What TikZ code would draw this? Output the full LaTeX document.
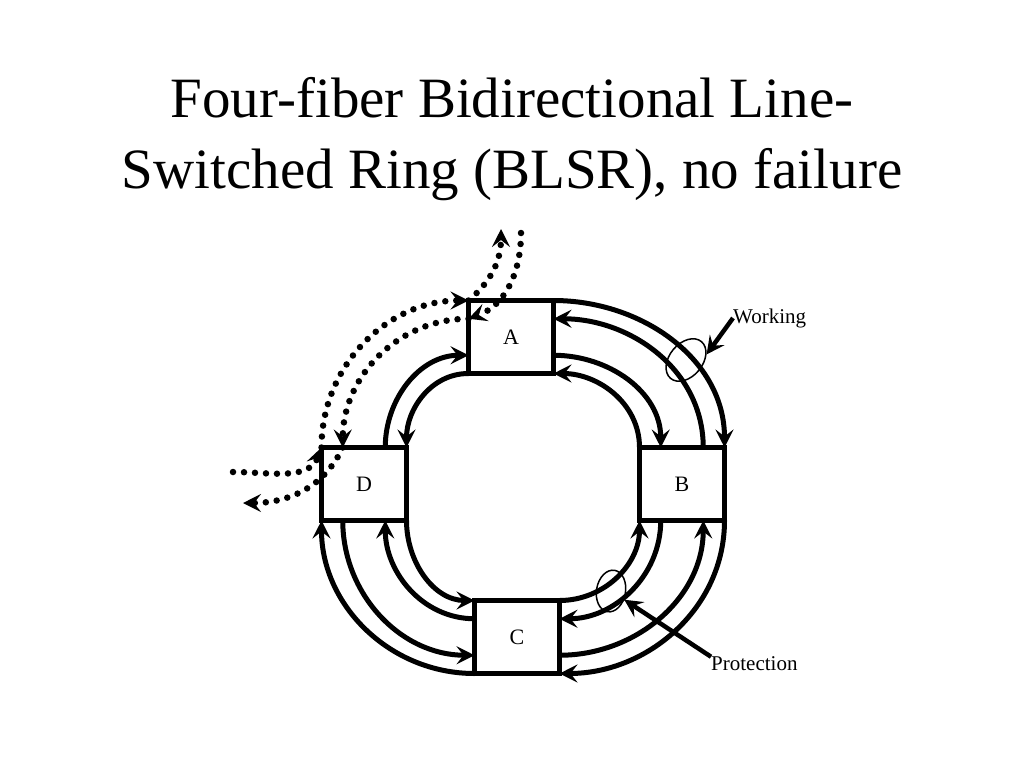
\documentclass[tikz,border=0pt]{standalone}
\usepackage{fontspec}
\setmainfont{Liberation Serif}
\usetikzlibrary{arrows.meta,calc,shapes.geometric}

\begin{document}
\begin{tikzpicture}[x=1pt,y=1pt,
		>={Stealth[length=18pt,width=18pt,inset=7pt]},
		box/.style={draw,line width=4.8pt,minimum width=85pt,minimum height=73pt,inner sep=0pt,outer sep=0pt,font=\fontsize{22}{24}\selectfont},
		fib/.style={line width=5pt},
		dotfib/.style={line width=6.5pt,line cap=round,dash pattern=on 0pt off 11pt},
		ring/.style={draw,ellipse,line width=1.5pt,inner sep=0pt},
		lbl/.style={inner sep=0pt,font=\fontsize{21}{24}\selectfont}]
		\fill[white] (0,0) rectangle (1024,-768);
		\useasboundingbox (0,0) rectangle (1024,-768);
		\node[align=center,inner sep=0pt,font=\fontsize{57}{71}\selectfont] (title) at (512,-139) {Four-fiber Bidirectional Line-\\Switched Ring (BLSR), no failure};
		% ring nodes
		\node[box] (A) at (511,-337) {A};
		\node[box] (B) at (682,-484) {B};
		\node[box] (C) at (517,-637) {C};
		\node[box] (D) at (364,-484) {D};
		% A and B
		\draw[fib,->] (A.north east) to[out=0,in=90] (B.north east);
		\draw[fib,<-] ($(A.north east)!.25!(A.south east)$) to[out=0,in=90] ($(B.north west)!.75!(B.north east)$);
		\draw[fib,->] ($(A.north east)!.75!(A.south east)$) to[out=0,in=90] ($(B.north west)!.25!(B.north east)$);
		\draw[fib,<-] (A.south east) to[out=0,in=90] (B.north west);
		% B and C
		\draw[fib,<-] (B.south west) to[out=-90,in=0] (C.north east);
		\draw[fib,->] ($(B.south west)!.25!(B.south east)$) to[out=-90,in=0] ($(C.north east)!.25!(C.south east)$);
		\draw[fib,<-] ($(B.south west)!.75!(B.south east)$) to[out=-90,in=0] ($(C.north east)!.75!(C.south east)$);
		\draw[fib,->] (B.south east) to[out=-90,in=0] (C.south east);
		% C and D
		\draw[fib,->] (D.south east) to[out=-90,in=180] (C.north west);
		\draw[fib,<-] ($(D.south west)!.75!(D.south east)$) to[out=-90,in=180] ($(C.north west)!.25!(C.south west)$);
		\draw[fib,->] ($(D.south west)!.25!(D.south east)$) to[out=-90,in=180] ($(C.north west)!.75!(C.south west)$);
		\draw[fib,<-] (D.south west) to[out=-90,in=180] (C.south west);
		% D and A
		\draw[fib,<-] (D.north east) to[out=90,in=180] (A.south west);
		\draw[fib,->] ($(D.north west)!.75!(D.north east)$) to[out=90,in=180] ($(A.north west)!.75!(A.south west)$);
		% dotted traffic
		\coordinate (w1) at (233,-472);
		\coordinate (n1) at (501,-229);
		\coordinate (n2) at (521,-233);
		\coordinate (w2) at (243,-503);
		\draw[dotfib,->] (w1) to[out=0,in=-110] (D.north west);
		\draw[dotfib,->] (D.north west) to[out=90,in=180] (A.north west);
		\draw[dotfib,->] (A.north west) to[out=40,in=-90] (n1);
		\draw[dotfib,->] (n2) to[out=-90,in=20] ($(A.north west)!.25!(A.south west)$);
		\draw[dotfib,->] ($(A.north west)!.25!(A.south west)$) to[out=180,in=90] ($(D.north west)!.25!(D.north east)$);
		\draw[dotfib,->] ($(D.north west)!.25!(D.north east)$) to[out=-115,in=0] (w2);
		% labels
		\node[ring,minimum width=48pt,minimum height=33pt,rotate=50] (wring) at (686,-360) {};
		\node[lbl,anchor=west] (work) at (733,-318) {Working};
		\draw[line width=4.5pt,->] (work.west) -- (wring.south east);
		\node[ring,minimum width=42pt,minimum height=29pt,rotate=80] (pring) at (611,-591) {};
		\node[lbl,anchor=west] (prot) at (711,-664) {Protection};
		\draw[line width=4.5pt,->] (prot.north west) -- (pring);
	\end{tikzpicture}
\end{document}
